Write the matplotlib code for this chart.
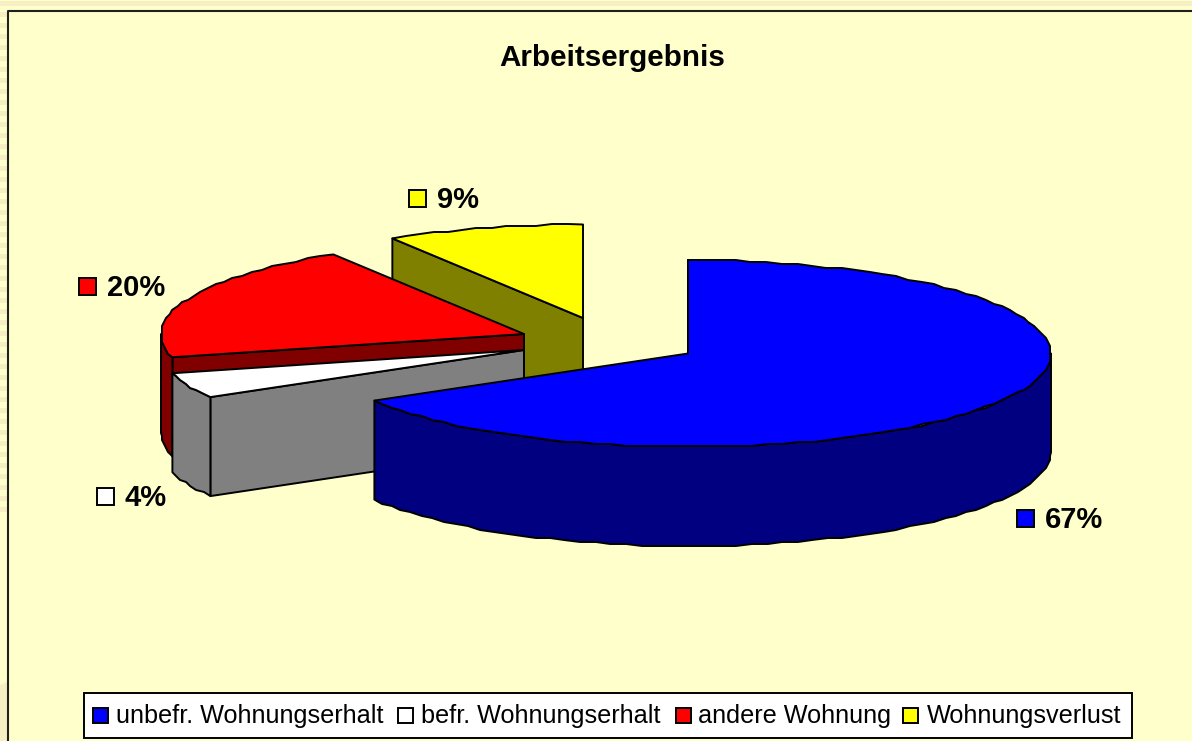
"""
Arbeitsergebnis - 3D Tortendiagramm im Excel-Stil
"""

import matplotlib
matplotlib.use('Agg')
import matplotlib.pyplot as plt
import numpy as np
from matplotlib.patches import Polygon, Rectangle

plt.rcParams['font.family'] = ['Liberation Sans', 'DejaVu Sans']

# Daten
title = 'Arbeitsergebnis'
categories = ['unbefr. Wohnungserhalt', 'befr. Wohnungserhalt', 'andere Wohnung', 'Wohnungsverlust']
values = [66.6, 4.4, 20.2, 8.8]

# Farben: Oberseite und Seitenwand
top_colors = ['#0000FF', '#FFFFFF', '#FF0000', '#FFFF00']
side_colors = ['#000080', '#808080', '#800000', '#808000']
bg_color = '#FFFFCC'
stripe_color = '#F6EFC4'

# Geometrie in Pixeln
RX, RY = 363, 93.5
DEPTH = 99
centers = [(688, 353.5), (524, 350), (524, 334), (583, 318)]
draw_order = [3, 2, 1, 0]
label_pos = [(1017, 518), (97, 496), (79, 286), (409, 198)]
legend_swatch_x = [93, 398, 676, 903]
legend_text_x = [116, 421, 698, 927]
LW = 1.4

fig = plt.figure(figsize=(11.92, 7.41), dpi=100, facecolor=bg_color)
ax = fig.add_axes([0, 0, 1, 1])
ax.set_xlim(0, 1192)
ax.set_ylim(741, 0)
ax.axis('off')


def arc(cx, cy, a0, a1, dy=0):
    """Punkte auf der Ellipse, Winkel im Uhrzeigersinn ab 12 Uhr (leicht gezackt wie im Original)"""
    n = max(2, int(abs(a1 - a0) / 2.5) + 2)
    t = np.radians(np.linspace(a0, a1, n))
    pts = np.column_stack([cx + RX * np.sin(t), cy - RY * np.cos(t) + dy])
    pts[1:-1] = np.round(pts[1:-1] / 2) * 2
    return pts


def poly(points, color, z):
    ax.add_patch(Polygon(points, closed=True, facecolor=color, edgecolor='black',
                         linewidth=LW, joinstyle='round', zorder=z))


# Hintergrund: Streifen links und oben, Rahmen
ax.add_patch(Rectangle((0, 1), 1192, 5, facecolor=stripe_color, edgecolor='none', zorder=0))
for y in np.arange(1, 510, 11):
    ax.add_patch(Rectangle((0, y), 7, 5, facecolor=stripe_color, edgecolor='none', zorder=0))
ax.add_patch(Polygon([(0, 685), (7, 682), (7, 741), (0, 741)], facecolor=stripe_color, edgecolor='none', zorder=0))
ax.plot([8, 8, 1192], [741, 11, 11], color='#202020', lw=1.5, zorder=1)

# Kreisteile
edges = np.concatenate([[0], np.cumsum(values)]) / np.sum(values) * 360
z = 2
for i in draw_order:
    a0, a1 = edges[i], edges[i + 1]
    cx, cy = centers[i]
    # Schnittflaeche am Anfangswinkel
    rim = arc(cx, cy, a0, a0)[0]
    poly([(cx, cy), rim, rim + (0, DEPTH), (cx, cy + DEPTH)], side_colors[i], z)
    # Aussenwand, nur der vordere Teil ist sichtbar
    w0, w1 = max(a0, 90), min(a1, 270)
    if w1 > w0:
        poly(np.vstack([arc(cx, cy, w0, w1), arc(cx, cy, w1, w0, DEPTH)]), side_colors[i], z)
    # Oberseite
    poly(np.vstack([[(cx, cy)], arc(cx, cy, a0, a1)]), top_colors[i], z)
    z += 1

# Titel
ax.text(612, 58, title, ha='center', va='center', fontsize=21.3, fontweight='bold', zorder=10)

# Datenbeschriftung
for v, c, (x, y) in zip(values, top_colors, label_pos):
    ax.add_patch(Rectangle((x, y - 8.5), 17, 17, facecolor=c, edgecolor='black', linewidth=LW, zorder=10))
    ax.text(x + 27.5, y + 2, f'{v:.0f}%', ha='left', va='center', fontsize=21, fontweight='bold', zorder=10)

# Legende
ax.add_patch(Rectangle((83.5, 692.5), 1048, 45, facecolor='white', edgecolor='black', linewidth=LW, zorder=10))
for name, c, sx, tx in zip(categories, top_colors, legend_swatch_x, legend_text_x):
    ax.add_patch(Rectangle((sx, 708), 15, 15, facecolor=c, edgecolor='black', linewidth=LW, zorder=11))
    ax.text(tx, 716, name, ha='left', va='center', fontsize=18.2, zorder=11)

fig.savefig('out.png', dpi=100, facecolor=fig.get_facecolor())
plt.close(fig)
